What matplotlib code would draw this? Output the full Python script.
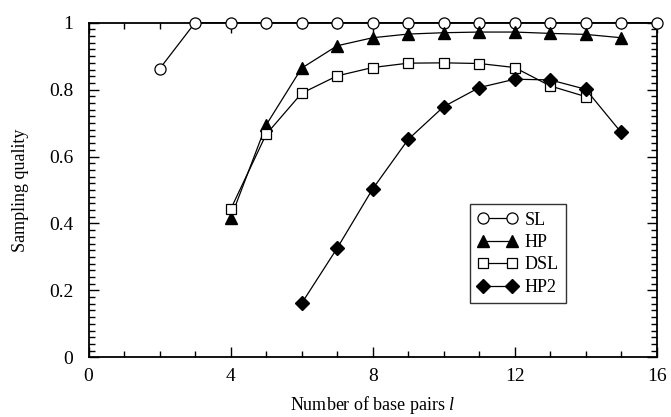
import matplotlib
matplotlib.use("Agg")
import matplotlib.pyplot as plt
from matplotlib.ticker import MultipleLocator

plt.rcParams['font.family'] = ['Liberation Serif', 'DejaVu Serif']
plt.rcParams['mathtext.fontset'] = 'custom'
plt.rcParams['mathtext.it'] = 'Liberation Serif:italic'
plt.rcParams['mathtext.rm'] = 'Liberation Serif'

sl_x = [2, 3, 4, 5, 6, 7, 8, 9, 10, 11, 12, 13, 14, 15, 16]
sl_y = [0.862, 1.0, 1.0, 1.0, 1.0, 1.0, 1.0, 1.0, 1.0, 1.0, 1.0, 1.0, 1.0, 1.0, 1.0]

hp_x = [4, 5, 6, 7, 8, 9, 10, 11, 12, 13, 14, 15]
hp_y = [0.415, 0.694, 0.864, 0.931, 0.955, 0.966, 0.970, 0.972, 0.972, 0.968, 0.965, 0.955]

dsl_x = [4, 5, 6, 7, 8, 9, 10, 11, 12, 13, 14]
dsl_y = [0.442, 0.666, 0.789, 0.841, 0.866, 0.879, 0.880, 0.878, 0.866, 0.811, 0.779]

hp2_x = [6, 7, 8, 9, 10, 11, 12, 13, 14, 15]
hp2_y = [0.161, 0.326, 0.503, 0.651, 0.749, 0.806, 0.831, 0.829, 0.801, 0.672]

fig = plt.figure(figsize=(6.71, 4.17), dpi=100)
ax = fig.add_axes([0.132, 0.1432, 0.9787 - 0.132, 0.9456 - 0.1432])

lw = 0.9
ax.plot(sl_x, sl_y, '-o', color='black', lw=lw, mfc='white', mec='black', ms=8, mew=0.9,
        label='SL', clip_on=False, zorder=3)
ax.plot(hp_x, hp_y, '-^', color='black', lw=lw, mfc='black', mec='black', ms=8.5,
        label='HP', clip_on=False, zorder=3)
ax.plot(dsl_x, dsl_y, '-s', color='black', lw=lw, mfc='white', mec='black', ms=7.5, mew=0.9,
        label='DSL', clip_on=False, zorder=3)
ax.plot(hp2_x, hp2_y, '-D', color='black', lw=lw, mfc='black', mec='black', ms=7,
        label='HP2', clip_on=False, zorder=3)

ax.set_xlim(0, 16)
ax.set_ylim(0, 1)
ax.xaxis.set_major_locator(MultipleLocator(4))
ax.xaxis.set_minor_locator(MultipleLocator(1))
ax.yaxis.set_major_locator(MultipleLocator(0.2))
ax.yaxis.set_minor_locator(MultipleLocator(0.02))
ax.set_yticks([0, 0.2, 0.4, 0.6, 0.8, 1.0])
ax.set_yticklabels(['0', '0.2', '0.4', '0.6', '0.8', '1'])

ax.tick_params(which='both', direction='in', top=True, right=True, labelsize=14, colors='black')
ax.tick_params(which='major', length=7, width=1.0)
ax.tick_params(axis='y', which='major', pad=11)
ax.tick_params(axis='x', which='major', pad=8)
ax.tick_params(which='minor', length=4, width=1.0)
for s in ax.spines.values():
    s.set_linewidth(1.3)

ax.set_xlabel('Number of base pairs $\\mathit{l}$', fontsize=13, labelpad=6)
ax.set_ylabel('Sampling quality', fontsize=13, labelpad=14)

leg = ax.legend(loc='lower left', bbox_to_anchor=(0.672, 0.162), numpoints=2,
                fontsize=13, frameon=True, fancybox=False, edgecolor='black',
                handlelength=2.2, handletextpad=0.4, borderpad=0.4, labelspacing=0.3,
                borderaxespad=0)
leg.get_frame().set_linewidth(1.0)

fig.savefig('out.png', dpi=100)
